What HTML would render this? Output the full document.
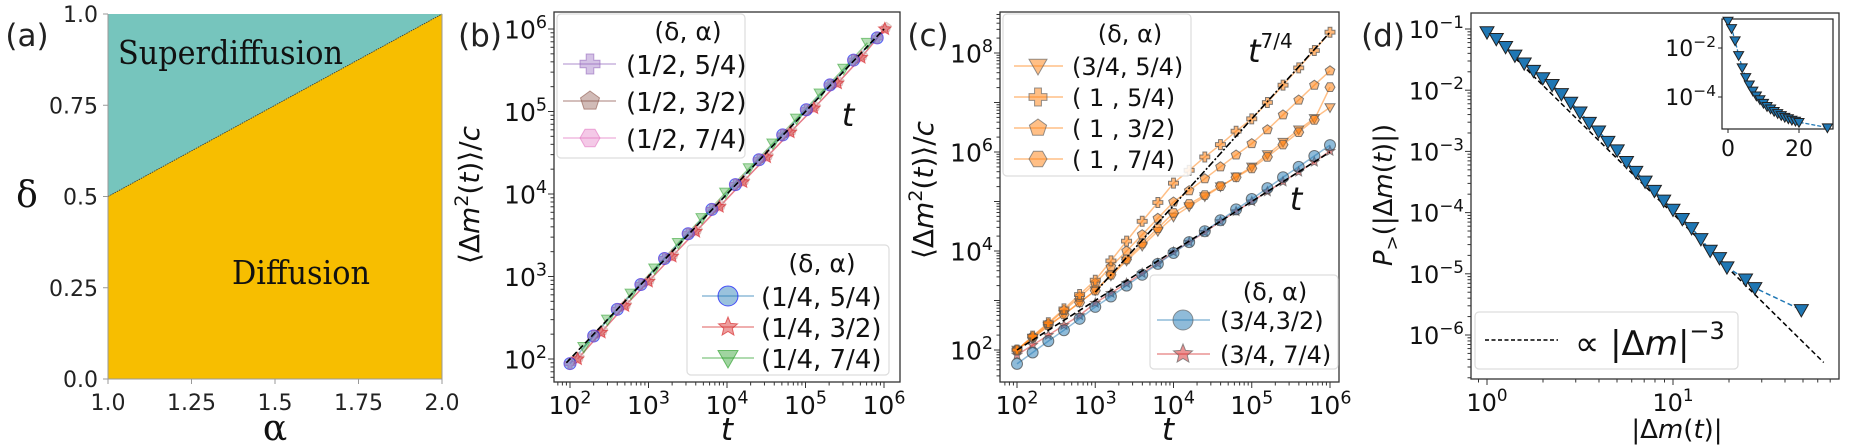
<!DOCTYPE html>
<html><head><meta charset="utf-8">
<style>
html,body{margin:0;padding:0;background:#fff;}
svg{display:block;font-family:"DejaVu Sans","Liberation Sans",sans-serif;}
</style></head>
<body>
<svg id="fig" width="1852" height="447" viewBox="0 0 1852 447" xmlns="http://www.w3.org/2000/svg"></svg>
<script>
// ---------- Panel (a) data ----------
const boundaryAlpha = [1, 2];
const boundaryDelta = [0.5, 1];
const aTicksX = [1.0, 1.25, 1.5, 1.75, 2.0];
const aTickLabelsX = ["1.0", "1.25", "1.5", "1.75", "2.0"];
const aTicksY = [0.0, 0.25, 0.5, 0.75, 1.0];
const aTickLabelsY = ["0.0", "0.25", "0.5", "0.75", "1.0"];

// ---------- Panel (b) data ----------
const bCircleT = [100,200,400,800,1600,3200,6400,12800,25600,51200,102400,204800,409600,819200];
const bCircleY = [88,190,400,800,1650,3300,6500,13000,26000,52000,105000,210000,420000,780000];
const bStarT = [125,250,500,1000,2000,4000,8000,16000,32000,64000,128000,256000,512000,1024000];
const bStarY = [100,210,440,870,1750,3500,7000,14000,28000,56000,110000,220000,450000,1000000];
const bTriT = [150,300,600,1200,2400,4800,9600,19200,38400,76800,153600,307200,614400];
const bTriY = [140,300,620,1250,2550,5100,10400,20500,41000,82000,165000,330000,680000];
const bRefT = [90, 1000000];
const bRefY = [90, 1000000];

// ---------- Panel (c) data (log10 values) ----------
const cLogT = [2.0,2.2,2.4,2.6,2.8,3.0,3.2,3.4,3.6,3.8,4.0,4.2,4.4,4.6,4.8,5.0,5.2,5.4,5.6,5.8,6.0];
const cPlus = [2.0,2.28,2.55,2.83,3.12,3.41,3.8,4.2,4.6,4.98,5.37,5.63,5.9,6.15,6.42,6.67,7.0,7.35,7.7,8.05,8.42];
const cPent = [2.0,2.27,2.53,2.8,3.07,3.35,3.68,4.0,4.33,4.66,4.99,5.22,5.46,5.7,5.94,6.17,6.45,6.75,7.05,7.35,7.64];
const cHex  = [2.0,2.25,2.5,2.72,2.96,3.2,3.52,3.83,4.15,4.46,4.77,4.95,5.13,5.31,5.49,5.67,5.9,6.15,6.4,6.65,7.31];
const cTri  = [2.0,2.24,2.48,2.72,2.96,3.2,3.5,3.8,4.1,4.4,4.69,4.9,5.1,5.3,5.5,5.7,5.95,6.2,6.45,6.68,6.9];
const cCirc = [1.72,1.95,2.18,2.4,2.63,2.87,3.08,3.3,3.52,3.74,3.96,4.18,4.4,4.62,4.84,5.05,5.27,5.49,5.7,5.92,6.14];
const cStar = [1.9,2.1,2.3,2.5,2.7,2.95,3.15,3.35,3.55,3.75,3.98,4.18,4.38,4.6,4.8,5.0,5.2,5.4,5.6,5.8,6.02];
const cRef1T = [2, 6];
const cRef1Y = [2, 6];
const cRef74T = [3, 6];
const cRef74Y = [3.17, 8.42];

// ---------- Panel (d) data (log10 values) ----------
const dLogX = [0,0.05,0.1,0.15,0.2,0.25,0.3,0.35,0.4,0.45,0.5,0.55,0.6,0.65,0.7,0.75,0.8,0.85,0.9,0.95,1.0,1.05,1.1,1.15,1.2,1.25,1.29,1.39,1.44,1.69];
const dLogY = [-1.05,-1.16,-1.29,-1.43,-1.56,-1.68,-1.8,-1.91,-2.06,-2.2,-2.36,-2.53,-2.67,-2.84,-2.98,-3.17,-3.33,-3.49,-3.64,-3.8,-3.95,-4.1,-4.25,-4.43,-4.62,-4.74,-4.89,-5.09,-5.23,-5.59];
const dRefX = [0, 1.81];
const dRefY = [-1.02, -6.45];
const insetX = [0,1,2,3,4,5,6,7,8,9,10,11,12,13,14,15,16,17,18,19,20,28];
const insetLogY = [-0.9,-1.2,-1.7,-2.3,-2.8,-3.2,-3.5,-3.75,-3.95,-4.1,-4.25,-4.38,-4.48,-4.58,-4.67,-4.75,-4.82,-4.88,-4.94,-4.98,-5.03,-5.25];

const NS = "http://www.w3.org/2000/svg";
const svg = document.getElementById('fig');
function mk(tag, attrs, name, parent) {
  const e = document.createElementNS(NS, tag);
  for (const k in attrs) e.setAttribute(k, attrs[k]);
  
  
  (parent || svg).appendChild(e);
  return e;
}
function txt(x, y, s, size, anchor, name, extra) {
  const a = Object.assign({x: x, y: y, 'font-size': size, 'text-anchor': anchor || 'middle', fill: '#111'}, extra || {});
  const t = mk('text', a, name);
  t.textContent = s;
  return t;
}
function powLabel(x, y, base, exp, size, anchor, name) {
  const t = mk('text', {x: x, y: y, 'font-size': size, 'text-anchor': anchor, fill: '#111'}, name);
  const a = document.createElementNS(NS, 'tspan'); a.textContent = base; t.appendChild(a);
  const b = document.createElementNS(NS, 'tspan'); b.textContent = exp;
  b.setAttribute('dy', -size * 0.42); b.setAttribute('font-size', size * 0.7); t.appendChild(b);
  return t;
}
function lin(d0, d1, p0, p1) { return v => p0 + (v - d0) / (d1 - d0) * (p1 - p0); }

function markerPath(type, x, y, r) {
  const pts = [];
  if (type === 'circle') return `M${x - r},${y}a${r},${r} 0 1,0 ${2*r},0a${r},${r} 0 1,0 ${-2*r},0Z`;
  if (type === 'tri') return `M${x - r},${y - r*0.75}L${x + r},${y - r*0.75}L${x},${y + r}Z`;
  if (type === 'plus') { const w = r*0.38; return `M${x-w},${y-r}h${2*w}v${r-w}h${r-w}v${2*w}h${-(r-w)}v${r-w}h${-2*w}v${-(r-w)}h${-(r-w)}v${-2*w}h${r-w}Z`; }
  let n = type === 'pent' ? 5 : type === 'hex' ? 6 : 10;
  for (let i = 0; i < n; i++) {
    const ang = -Math.PI/2 + i * 2*Math.PI/n + (type === 'hex' ? Math.PI/6 : 0);
    const rr = type === 'star' ? (i % 2 ? r*0.45 : r) : r;
    pts.push((x + rr*Math.cos(ang)).toFixed(1) + ',' + (y + rr*Math.sin(ang)).toFixed(1));
  }
  return 'M' + pts.join('L') + 'Z';
}
function marker(type, x, y, r, fill, stroke, name, op) {
  return mk('path', {d: markerPath(type, x, y, r), fill: fill, stroke: stroke, 'stroke-width': 1, 'fill-opacity': op == null ? 1 : op, 'stroke-opacity': op == null ? 1 : Math.min(1, op + 0.2)}, name);
}
function polyline(xs, ys, fx, fy, attrs, name) {
  const p = xs.map((v, i) => fx(v).toFixed(1) + ',' + fy(ys[i]).toFixed(1)).join(' ');
  return mk('polyline', Object.assign({points: p, fill: 'none'}, attrs), name);
}
function box(x0, y0, x1, y1, name) {
  mk('rect', {x: x0, y: y0, width: x1 - x0, height: y1 - y0, fill: 'none', stroke: '#333', 'stroke-width': 1.3}, name);
}
function legendBox(x0, y0, x1, y1, name) {
  mk('rect', {x: x0, y: y0, width: x1 - x0, height: y1 - y0, rx: 4, fill: '#fff', 'fill-opacity': 0.85, stroke: '#ddd', 'stroke-width': 1.2}, name);
}
function logXTicks(fx, lo, hi, yb, labelSize, labelled) {
  for (let d = Math.floor(lo); d <= Math.ceil(hi); d++) {
    for (let m = 1; m <= 9; m++) {
      const lv = d + Math.log10(m);
      if (lv < lo || lv > hi) continue;
      const x = fx(lv);
      mk('line', {x1: x, x2: x, y1: yb, y2: yb + (m === 1 ? 6 : 3.5), stroke: '#333', 'stroke-width': 1}, m === 1 ? 'x-major-tick' : 'x-minor-tick');
      if (m === 1 && labelled(d)) powLabel(x, yb + 32, '10', String(d).replace('-', '−'), labelSize, 'middle', 'x-tick-label');
    }
  }
}
function logYTicks(fy, lo, hi, xl, labelSize, labelled) {
  for (let d = Math.floor(lo); d <= Math.ceil(hi); d++) {
    for (let m = 1; m <= 9; m++) {
      const lv = d + Math.log10(m);
      if (lv < lo || lv > hi) continue;
      const y = fy(lv);
      mk('line', {x1: xl, x2: xl - (m === 1 ? 6 : 3.5), y1: y, y2: y, stroke: '#333', 'stroke-width': 1}, m === 1 ? 'y-major-tick' : 'y-minor-tick');
      if (m === 1 && labelled(d)) powLabel(xl - 7, y + labelSize*0.38, '10', String(d).replace('-', '−'), labelSize, 'end', 'y-tick-label');
    }
  }
}

// ================= Panel (a) =================
const axA = lin(1, 2, 108, 442), ayA = lin(0, 1, 379, 14);
mk('rect', {x: 108, y: 14, width: 334, height: 365, fill: '#f7be00'}, 'diffusion-region');
const bx = boundaryAlpha.map(axA), by = boundaryDelta.map(ayA);
mk('polygon', {points: `${axA(1)},${ayA(1)} ${bx[0]},${by[0]} ${bx[1]},${by[1]}`, fill: '#76c5bd'}, 'superdiffusion-region');
mk('line', {x1: bx[0], y1: by[0], x2: bx[1], y2: by[1], stroke: '#333', 'stroke-width': 0.8, 'stroke-dasharray': '1.5,1'}, 'phase-boundary');
mk('path', {d: 'M108,14V379H442V14', fill: 'none', stroke: '#999', 'stroke-width': 1}, 'axes-frame-a');
aTicksX.forEach((v, i) => {
  mk('line', {x1: axA(v), x2: axA(v), y1: 379, y2: 384, stroke: '#999'}, 'x-tick-a');
  txt(axA(v), 410, aTickLabelsX[i], 22, 'middle', 'x-tick-label-a', {fill: '#222'});
});
aTicksY.forEach((v, i) => {
  mk('line', {x1: 108, x2: 103, y1: ayA(v), y2: ayA(v), stroke: '#999'}, 'y-tick-a');
  txt(98, ayA(v) + 8, aTickLabelsY[i], 22, 'end', 'y-tick-label-a', {fill: '#222'});
});
txt(118, 64, 'Superdiffusion', 33, 'start', 'superdiffusion-label', {'font-family': '"DejaVu Serif","Liberation Serif",serif', textLength: 225, lengthAdjust: 'spacingAndGlyphs'});
txt(232, 284, 'Diffusion', 33, 'start', 'diffusion-label', {'font-family': '"DejaVu Serif","Liberation Serif",serif', textLength: 138, lengthAdjust: 'spacingAndGlyphs'});
txt(27, 207, 'δ', 36, 'middle', 'y-axis-title-a', {'font-family': '"DejaVu Serif",serif'});
txt(275, 440, 'α', 36, 'middle', 'x-axis-title-a', {'font-family': '"DejaVu Serif",serif'});
txt(27, 46, '(a)', 31, 'middle', 'panel-label-a', {fill: '#222'});

// ================= Panel (b) =================
const fxB = lv => 570 + (lv - 2) * 78.5, fyB = lv => 359 - (lv - 2) * 82.5;
const lxB = v => fxB(Math.log10(v)), lyB = v => fyB(Math.log10(v));
logXTicks(fxB, 1.8, 6.2, 382, 25, d => true);
logYTicks(fyB, 1.72, 6.21, 554, 25, d => true);
polyline(bStarT, bStarY, lxB, lyB, {stroke: '#f0b0d8', 'stroke-width': 1.5, 'stroke-opacity': 0.6}, 'series-b-half-74-line');
polyline(bTriT, bTriY, lxB, lyB, {stroke: '#2ca02c', 'stroke-width': 1.5, 'stroke-opacity': 0.5}, 'series-b-quarter-74-line');
polyline(bStarT, bStarY, lxB, lyB, {stroke: '#d62728', 'stroke-width': 1.5, 'stroke-opacity': 0.5}, 'series-b-quarter-32-line');
polyline(bCircleT, bCircleY, lxB, lyB, {stroke: '#1f77b4', 'stroke-width': 1.5, 'stroke-opacity': 0.5}, 'series-b-quarter-54-line');
bStarT.forEach((t, i) => marker('hex', lxB(t), lyB(bStarY[i]), 5, '#f7b6d2', '#f7b6d2', 'point-b-half-74', 0.3));
bStarT.forEach((t, i) => marker('pent', lxB(t * 1.05), lyB(bStarY[i] * 1.05), 5, '#c49c94', '#c49c94', 'point-b-half-32', 0.3));
bTriT.forEach((t, i) => marker('tri', lxB(t), lyB(bTriY[i]), 6, '#2ca02c', '#2ca02c', 'point-b-quarter-74', 0.35));
bStarT.forEach((t, i) => marker('star', lxB(t), lyB(bStarY[i]), 6.5, '#d62728', '#d62728', 'point-b-quarter-32', 0.45));
bCircleT.forEach((t, i) => marker('circle', lxB(t), lyB(bCircleY[i]), 6, '#1f77b4', '#0000ff', 'point-b-quarter-54', 0.4));
bCircleT.forEach((t, i) => marker('plus', lxB(t), lyB(bCircleY[i]), 5.5, '#9467bd', '#9467bd', 'point-b-half-54', 0.5));
polyline(bRefT, bRefY, lxB, lyB, {stroke: '#000', 'stroke-width': 1.6, 'stroke-dasharray': '6,3'}, 'reference-line-t-b');
txt(848, 126, 't', 32, 'middle', 'label-t-b', {'font-style': 'italic'});
box(554, 12, 900, 382, 'axes-frame-b');
legendBox(557, 14, 745, 158, 'legend-upper-b');
txt(688, 40, '(δ, α)', 25, 'middle', 'legend-title-b-upper');
[['plus', '#9467bd', '(1/2, 5/4)'], ['pent', '#8c564b', '(1/2, 3/2)'], ['hex', '#e377c2', '(1/2, 7/4)']].forEach((e, i) => {
  const y = 64 + i * 37;
  mk('line', {x1: 563, x2: 616, y1: y, y2: y, stroke: e[1], 'stroke-opacity': 0.5, 'stroke-width': 1.5}, 'legend-line-b');
  marker(e[0], 590, y, 10, e[1], e[1], 'legend-marker-b', 0.4);
  txt(626, y + 10, e[2], 26, 'start', 'legend-entry-b');
});
legendBox(687, 245, 889, 375, 'legend-lower-b');
txt(822, 272, '(δ, α)', 25, 'middle', 'legend-title-b-lower');
[['circle', '#1f77b4', '(1/4, 5/4)'], ['star', '#d62728', '(1/4, 3/2)'], ['tri', '#2ca02c', '(1/4, 7/4)']].forEach((e, i) => {
  const y = 296 + i * 31;
  mk('line', {x1: 702, x2: 754, y1: y, y2: y, stroke: e[1], 'stroke-opacity': 0.5, 'stroke-width': 1.5}, 'legend-line-b');
  marker(e[0], 728, y, 10, e[1], e[0] === 'circle' ? '#0000ff' : e[1], 'legend-marker-b', 0.45);
  txt(761, y + 10, e[2], 26, 'start', 'legend-entry-b');
});
(function() {
  const t = mk('text', {x: 0, y: 0, 'font-size': 28, 'text-anchor': 'middle', fill: '#111', transform: 'translate(479,195) rotate(-90)'}, 'y-axis-title-b');
  t.innerHTML = '⟨Δ<tspan font-style="italic">m</tspan><tspan dy="-11" font-size="19">2</tspan><tspan dy="11">(</tspan><tspan font-style="italic">t</tspan>)⟩/<tspan font-style="italic">c</tspan>';
})();
txt(727, 440, 't', 31, 'middle', 'x-axis-title-b', {'font-style': 'italic'});
txt(480, 46, '(b)', 31, 'middle', 'panel-label-b', {fill: '#222'});

// ================= Panel (c) =================
const fxC = lv => 1017 + (lv - 2) * 78.25, fyC = lv => 350 - (lv - 2) * 49.5;
logXTicks(fxC, 1.78, 6.12, 382, 25, d => true);
logYTicks(fyC, 1.35, 8.8, 1000, 25, d => d % 2 === 0);
const orange = '#ff7f0e';
[[cTri, 'tri', 'c-three-quarter-54'], [cHex, 'hex', 'c-one-74'], [cPent, 'pent', 'c-one-32'], [cPlus, 'plus', 'c-one-54']].forEach(s => {
  polyline(cLogT, s[0], fxC, fyC, {stroke: orange, 'stroke-width': 1.5, 'stroke-opacity': 0.5}, 'series-' + s[2] + '-line');
});
polyline(cLogT, cStar, fxC, fyC, {stroke: '#d62728', 'stroke-width': 1.5, 'stroke-opacity': 0.5}, 'series-c-three-quarter-74-line');
polyline(cLogT, cCirc, fxC, fyC, {stroke: '#1f77b4', 'stroke-width': 1.5, 'stroke-opacity': 0.5}, 'series-c-three-quarter-32-line');
cLogT.forEach((t, i) => marker('star', fxC(t), fyC(cStar[i]), 5, '#d62728', '#555', 'point-c-three-quarter-74', 0.5));
cLogT.forEach((t, i) => marker('circle', fxC(t), fyC(cCirc[i]), 5.5, '#1f77b4', '#444', 'point-c-three-quarter-32', 0.5));
[[cTri, 'tri'], [cHex, 'hex'], [cPent, 'pent'], [cPlus, 'plus']].forEach(s => {
  cLogT.forEach((t, i) => marker(s[1], fxC(t), fyC(s[0][i]), 5, orange, '#555', 'point-c-' + s[1], 0.55));
});
polyline(cRef1T, cRef1Y, fxC, fyC, {stroke: '#000', 'stroke-width': 1.6, 'stroke-dasharray': '6,3'}, 'reference-line-t-c');
polyline(cRef74T, cRef74Y, fxC, fyC, {stroke: '#000', 'stroke-width': 1.6, 'stroke-dasharray': '7,2,2,2'}, 'reference-line-t74-c');
(function() {
  const t = mk('text', {x: 1248, y: 62, 'font-size': 32, 'text-anchor': 'start', fill: '#111'}, 'label-t74-c');
  t.innerHTML = '<tspan font-style="italic">t</tspan><tspan dy="-14" font-size="20">7/4</tspan>';
})();
txt(1296, 210, 't', 32, 'middle', 'label-t-c', {'font-style': 'italic'});
box(1000, 12, 1339, 382, 'axes-frame-c');
legendBox(1003, 14, 1191, 176, 'legend-upper-c');
txt(1130, 42, '(δ, α)', 24, 'middle', 'legend-title-c-upper');
[['tri', '(3/4, 5/4)'], ['plus', '( 1  , 5/4)'], ['pent', '( 1  , 3/2)'], ['hex', '( 1  , 7/4)']].forEach((e, i) => {
  const y = 66 + i * 31;
  mk('line', {x1: 1014, x2: 1063, y1: y, y2: y, stroke: orange, 'stroke-opacity': 0.5, 'stroke-width': 1.5}, 'legend-line-c');
  marker(e[0], 1038, y, 9, orange, '#666', 'legend-marker-c', 0.5);
  txt(1072, y + 9, e[1], 24, 'start', 'legend-entry-c', {'xml:space': 'preserve'});
});
legendBox(1150, 275, 1338, 369, 'legend-lower-c');
txt(1275, 300, '(δ, α)', 24, 'middle', 'legend-title-c-lower');
[['circle', '#1f77b4', '(3/4,3/2)'], ['star', '#d62728', '(3/4, 7/4)']].forEach((e, i) => {
  const y = 320 + i * 34;
  mk('line', {x1: 1157, x2: 1210, y1: y, y2: y, stroke: e[1], 'stroke-opacity': 0.5, 'stroke-width': 1.5}, 'legend-line-c');
  marker(e[0], 1183, y, 10, e[1], '#666', 'legend-marker-c', 0.5);
  txt(1220, y + 9, e[2], 24, 'start', 'legend-entry-c');
});
(function() {
  const t = mk('text', {x: 0, y: 0, 'font-size': 28, 'text-anchor': 'middle', fill: '#111', transform: 'translate(933,190) rotate(-90)'}, 'y-axis-title-c');
  t.innerHTML = '⟨Δ<tspan font-style="italic">m</tspan><tspan dy="-11" font-size="19">2</tspan><tspan dy="11">(</tspan><tspan font-style="italic">t</tspan>)⟩/<tspan font-style="italic">c</tspan>';
})();
txt(1168, 440, 't', 31, 'middle', 'x-axis-title-c', {'font-style': 'italic'});
txt(928, 46, '(c)', 31, 'middle', 'panel-label-c', {fill: '#222'});

// ================= Panel (d) =================
const fxD = lv => 1487 + lv * 186, fyD = lv => 29 - (lv + 1) * 61.2;
logXTicks(fxD, -0.086, 1.89, 379, 24, d => d === 0 || d === 1);
logYTicks(fyD, -6.72, -0.74, 1471, 24, d => true);
polyline(dRefX, dRefY, fxD, fyD, {stroke: '#000', 'stroke-width': 1.5, 'stroke-dasharray': '5,3'}, 'reference-line-power-law');
polyline(dLogX, dLogY, fxD, fyD, {stroke: '#1f77b4', 'stroke-width': 1.5, 'stroke-dasharray': '5,3'}, 'series-d-line');
dLogX.forEach((x, i) => marker('tri', fxD(x), fyD(dLogY[i]), 7, '#1f77b4', '#222', 'point-d'));
box(1471, 13, 1839, 379, 'axes-frame-d');
legendBox(1475, 312, 1738, 369, 'legend-d');
mk('line', {x1: 1485, x2: 1558, y1: 340, y2: 340, stroke: '#000', 'stroke-width': 1.5, 'stroke-dasharray': '4,2.5'}, 'legend-line-d');
(function() {
  const t = mk('text', {x: 1575, y: 355, 'font-size': 34, 'text-anchor': 'start', fill: '#111'}, 'legend-entry-d');
  t.innerHTML = '∝ |Δ<tspan font-style="italic">m</tspan>|<tspan dy="-16" font-size="24">−3</tspan>';
})();
mk('rect', {x: 1722, y: 19, width: 111, height: 110, fill: '#fff', stroke: '#222', 'stroke-width': 1.2}, 'inset-frame');
const fxI = v => 1728 + v * 3.55, fyI = lv => 48 - (lv + 2) * 24.5;
polyline(insetX, insetLogY, fxI, fyI, {stroke: '#1f77b4', 'stroke-width': 1.3, 'stroke-dasharray': '4,2'}, 'inset-series-line');
insetX.forEach((x, i) => marker('tri', fxI(x), fyI(insetLogY[i]), 5, '#1f77b4', '#222', 'inset-point'));
[0, 20].forEach(v => {
  mk('line', {x1: fxI(v), x2: fxI(v), y1: 129, y2: 133, stroke: '#222'}, 'inset-x-tick');
  txt(fxI(v), 156, String(v), 22, 'middle', 'inset-x-tick-label');
});
[-2, -4].forEach(d => {
  mk('line', {x1: 1722, x2: 1718, y1: fyI(d), y2: fyI(d), stroke: '#222'}, 'inset-y-tick');
  powLabel(1716, fyI(d) + 8, '10', '−' + Math.abs(d), 22, 'end', 'inset-y-tick-label');
});
(function() {
  const t = mk('text', {x: 0, y: 0, 'font-size': 26, 'text-anchor': 'middle', fill: '#111', transform: 'translate(1392,195) rotate(-90)'}, 'y-axis-title-d');
  t.innerHTML = '<tspan font-style="italic">P</tspan><tspan dy="6" font-size="18">&gt;</tspan><tspan dy="-6">(|Δ</tspan><tspan font-style="italic">m</tspan>(<tspan font-style="italic">t</tspan>)|)</tspan>';
})();
(function() {
  const t = mk('text', {x: 1677, y: 438, 'font-size': 26, 'text-anchor': 'middle', fill: '#111'}, 'x-axis-title-d');
  t.innerHTML = '|Δ<tspan font-style="italic">m</tspan>(<tspan font-style="italic">t</tspan>)|';
})();
txt(1383, 46, '(d)', 31, 'middle', 'panel-label-d', {fill: '#222'});
</script>
</body></html>
